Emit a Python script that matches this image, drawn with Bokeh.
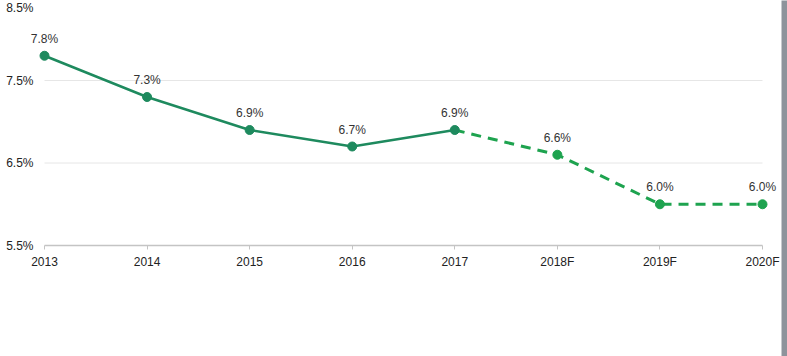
from bokeh.plotting import figure
from bokeh.models import Range1d, FixedTicker, ColumnDataSource, LabelSet
from bokeh.layouts import row
from bokeh.embed import file_html
from bokeh.resources import INLINE
from bokeh.core.properties import value

years = ["2013", "2014", "2015", "2016", "2017", "2018F", "2019F", "2020F"]
rates = [7.8, 7.3, 6.9, 6.7, 6.9, 6.6, 6.0, 6.0]
last_actual = 4  # index of 2017, the last actual year
y_ticks = [5.5, 6.5, 7.5, 8.5]
grid_ticks = [6.5, 7.5]

FONT = "Liberation Sans"
DARK = "#1e8a5e"
LIGHT = "#1ea34f"
W, H = 781, 356

xs = list(range(len(years)))
labels = [f"{v:.1f}%" for v in rates]

# frame spans the whole figure: 2013 sits 44px in, 2020F at 762px; 5.5% at 245px down
px_per_unit = (762 - 44) / (len(years) - 1)
x_start = -44 / px_per_unit
x_end = x_start + W / px_per_unit
px_per_pct = 82.5
y_end = y_ticks[0] + 245 / px_per_pct
y_start = y_end - H / px_per_pct

actual = ColumnDataSource(dict(x=xs[:last_actual + 1], y=rates[:last_actual + 1]))
forecast_line = ColumnDataSource(dict(x=xs[last_actual:], y=rates[last_actual:]))
forecast_pts = ColumnDataSource(dict(x=xs[last_actual + 1:], y=rates[last_actual + 1:]))
all_pts = ColumnDataSource(dict(x=xs, y=rates, t=labels))
in_ticks = [t for t in y_ticks if t <= y_end]
top_ticks = [t for t in y_ticks if t > y_end]
ytick_src = ColumnDataSource(dict(y=in_ticks, t=[f"{t:.1f}%" for t in in_ticks]))
ytop_src = ColumnDataSource(dict(y=[y_end] * len(top_ticks),
                                 t=[f"{t:.1f}%" for t in top_ticks]))

p = figure(width=W, height=H, output_backend="svg", toolbar_location=None,
           x_range=Range1d(x_start, x_end), y_range=Range1d(y_start, y_end),
           min_border=0, y_axis_location=None)
p.outline_line_color = None
p.background_fill_color = "white"
p.border_fill_color = "white"

p.xgrid.visible = False
p.ygrid.visible = False
p.segment(x0=xs[0], x1=xs[-1], y0=grid_ticks, y1=grid_ticks,
          line_color="#e6e6e6", line_width=1)

p.xaxis.fixed_location = y_ticks[0]
p.xaxis.ticker = FixedTicker(ticks=xs)
p.xaxis.bounds = (xs[0], xs[-1])
p.xaxis.major_label_overrides = {i: y for i, y in enumerate(years)}
p.xaxis.axis_line_color = "#c4c4c4"
p.xaxis.axis_line_width = 1.5
p.xaxis.major_tick_line_color = "#c4c4c4"
p.xaxis.major_tick_out = 4
p.xaxis.major_tick_in = 0
p.xaxis.minor_tick_line_color = None
p.xaxis.major_label_standoff = 5
p.xaxis.major_label_text_font = FONT
p.xaxis.major_label_text_font_size = "12px"
p.xaxis.major_label_text_color = "#222222"

for src, base in ((ytick_src, "middle"), (ytop_src, "top")):
    p.add_layout(LabelSet(x=33, x_units="screen", y="y", text="t", source=src,
                          text_align="right", text_baseline=base,
                          text_font=value(FONT), text_font_size="12px",
                          text_color="#222222"))

p.line("x", "y", source=actual, line_color=DARK, line_width=2.5)
p.line("x", "y", source=forecast_line, line_color=LIGHT, line_width=3, line_dash="10 7")
p.scatter("x", "y", source=actual, size=9, fill_color=DARK, line_color=DARK)
p.scatter("x", "y", source=forecast_pts, size=9, fill_color=LIGHT, line_color=LIGHT)

p.text("x", "y", text="t", source=all_pts, y_offset=-10, text_align="center",
       text_baseline="bottom", text_font=value(FONT), text_font_size="12px",
       text_color="#333333")

bar = figure(width=6, height=H, output_backend="svg", toolbar_location=None,
             min_border=0, x_axis_type=None, y_axis_type=None)
bar.background_fill_color = "#8d939b"
bar.border_fill_color = "#8d939b"
bar.outline_line_color = None
bar.grid.visible = False

layout = row(p, bar, spacing=0)
open("out.html", "w").write(file_html(layout, INLINE))
